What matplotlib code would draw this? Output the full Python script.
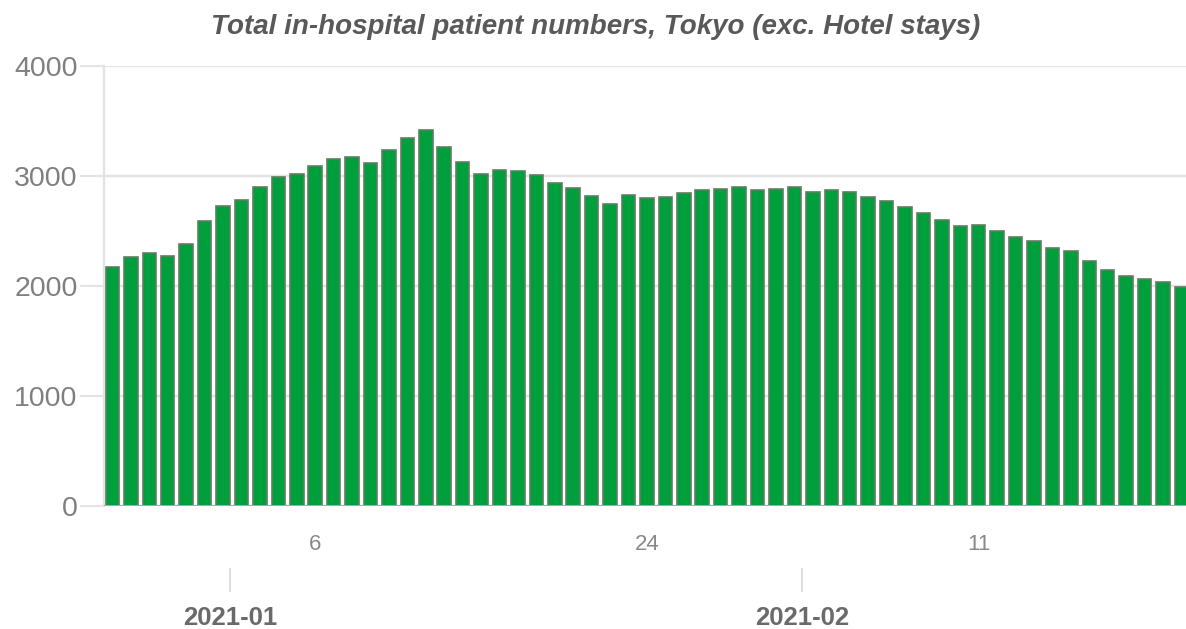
import matplotlib
matplotlib.use('Agg')
import matplotlib.pyplot as plt
import pandas as pd

# Daily in-hospital patient counts, Tokyo, from 26 Dec 2020
dates = pd.date_range('2020-12-26', periods=59, freq='D')
patients = [2175, 2264, 2300, 2276, 2385, 2591, 2730, 2779, 2900, 2991,
            3021, 3088, 3151, 3176, 3115, 3240, 3349, 3421, 3260, 3130,
            3018, 3058, 3045, 3009, 2939, 2888, 2818, 2742, 2827, 2797,
            2809, 2842, 2870, 2885, 2897, 2876, 2885, 2897, 2855, 2873,
            2855, 2812, 2773, 2718, 2661, 2603, 2548, 2555, 2500, 2445,
            2412, 2342, 2321, 2230, 2145, 2094, 2061, 2033, 1994]
day_labels = ['2021-01-06', '2021-01-24', '2021-02-11']
month_labels = ['2021-01', '2021-02']
y_ticks = [0, 1000, 2000, 3000, 4000]

grid_col = '#e3e3e3'
plt.rcParams['font.family'] = ['Liberation Sans', 'DejaVu Sans']

fig = plt.figure(figsize=(11.86, 6.29), dpi=100)
ax = fig.add_axes([104 / 1186, 1 - 506 / 629, 1 - 104 / 1186, 440 / 629])

x = list(range(len(dates)))
ax.bar(x, patients, width=0.73, color='#009f3e', edgecolor='#5f7f61',
       linewidth=1.2, zorder=3)

ax.set_xlim(-0.46, 58.25)
ax.set_ylim(0, 4000)
ax.set_yticks(y_ticks)
ax.set_yticklabels([str(v) for v in y_ticks])
ax.tick_params(axis='y', length=17, width=1.5, color=grid_col, pad=2,
               labelsize=20.5, labelcolor='#7f7f7f')
ax.grid(axis='y', color=grid_col, linewidth=1.7, zorder=0)
ax.axhline(0, color='#aaaaaa', linewidth=1.4, zorder=4)

for s in ['top', 'right', 'bottom']:
    ax.spines[s].set_visible(False)
ax.spines['left'].set_color(grid_col)
ax.spines['left'].set_linewidth(1.7)

# day labels under the bars
date_list = [d.strftime('%Y-%m-%d') for d in dates]
day_pos = [date_list.index(d) for d in day_labels]
ax.set_xticks(day_pos)
ax.set_xticklabels([str(int(d[-2:])) for d in day_labels])
ax.tick_params(axis='x', length=0, pad=20, labelsize=16, labelcolor='#888888')

# month ticks on a second axis lower down
month_pos = [date_list.index(m + '-01') + 0.4 for m in month_labels]
sec = ax.secondary_xaxis(-0.141)
sec.set_xticks(month_pos)
sec.set_xticklabels(month_labels, fontweight='bold')
sec.tick_params(length=17, width=1.4, color='#dddddd', pad=10,
                labelsize=18.5, labelcolor='#6a6a6a')
sec.spines['bottom'].set_visible(False)

fig.text(596 / 1186, 1 - 27 / 629,
         'Total in-hospital patient numbers, Tokyo (exc. Hotel stays)',
         ha='center', va='center', fontsize=20, fontweight='bold',
         fontstyle='italic', color='#595959',
         family=['Liberation Sans Narrow', 'Liberation Sans'])

fig.savefig('out.png', dpi=100)
